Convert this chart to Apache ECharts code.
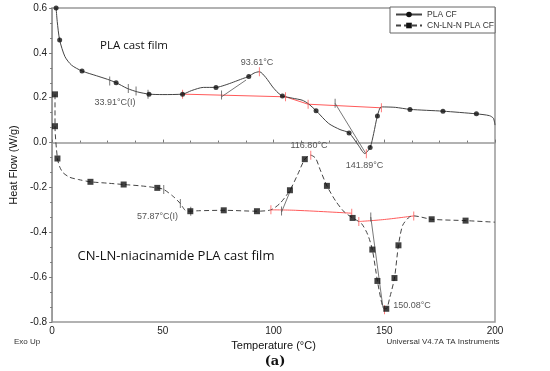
<!DOCTYPE html>
<html><head><meta charset="utf-8">
<script src="https://cdn.jsdelivr.net/npm/echarts@6/dist/echarts.min.js"></script>
<style>html,body{margin:0;padding:0;background:#fff}#c{width:550px;height:371px}</style>
</head><body><div id="c"></div>
<script>
// ---- Data (Temperature °C, Heat Flow W/g) ----
const plaT = [1.8, 2.3, 3.4, 5.8, 8.8, 13.5, 20, 25, 28.9, 33.9, 38.5, 43.75, 50, 58.9, 63, 68.3, 74, 78, 82, 86, 88.8, 91.2, 93.6, 96.5, 99.6, 102, 104, 108.5, 112.9, 115.6, 119.2, 124.9, 130, 134.1, 138.3, 141.2, 143.6, 145.2, 146.9, 148.7, 155, 161.6, 176.5, 191.6, 197.5, 199.3, 200];
const plaH = [0.6, 0.54, 0.457, 0.383, 0.345, 0.319, 0.298, 0.282, 0.267, 0.2415, 0.226, 0.216, 0.214, 0.216, 0.232, 0.246, 0.246, 0.256, 0.27, 0.285, 0.295, 0.31, 0.316, 0.29, 0.248, 0.222, 0.208, 0.198, 0.189, 0.174, 0.142, 0.085, 0.058, 0.043, -0.012, -0.049, -0.022, 0.04, 0.119, 0.159, 0.157, 0.148, 0.140, 0.128, 0.12, 0.108, 0.078];
const plaMarkT = [1.8, 3.4, 13.5, 28.9, 43.75, 58.9, 74, 88.8, 104, 119.2, 134.1, 143.6, 146.9, 161.6, 176.5, 191.6];
const plaMarkH = [0.6, 0.457, 0.319, 0.267, 0.216, 0.216, 0.246, 0.295, 0.208, 0.142, 0.043, -0.022, 0.119, 0.148, 0.140, 0.128];

const cnT = [1.3, 1.3, 2.4, 3.5, 5, 8, 12, 17.3, 25, 32.3, 40, 47.5, 50.4, 54.9, 57.9, 60.1, 62.4, 66, 77.5, 92.5, 98.8, 103, 107.4, 111, 114.1, 116.7, 119, 121, 124.1, 128, 132, 135.7, 139.7, 142.5, 144.6, 146.9, 148.5, 149.6, 150.9, 152.5, 154.6, 156.4, 158.3, 161.3, 163.3, 171.4, 186.7, 200];
const cnH = [0.215, 0.073, -0.071, -0.11, -0.135, -0.155, -0.165, -0.175, -0.181, -0.187, -0.193, -0.202, -0.209, -0.242, -0.272, -0.302, -0.306, -0.304, -0.302, -0.306, -0.300, -0.27, -0.2125, -0.14, -0.074, -0.056, -0.07, -0.12, -0.193, -0.26, -0.31, -0.336, -0.361, -0.41, -0.477, -0.617, -0.70, -0.738, -0.741, -0.69, -0.604, -0.458, -0.369, -0.332, -0.327, -0.342, -0.348, -0.355];
const cnMarkT = [1.3, 1.3, 2.4, 17.3, 32.3, 47.5, 62.4, 77.5, 92.5, 107.4, 114.1, 124.1, 135.7, 144.6, 146.9, 150.9, 154.6, 156.4, 171.4, 186.7];
const cnMarkH = [0.215, 0.073, -0.071, -0.175, -0.187, -0.202, -0.306, -0.302, -0.306, -0.2125, -0.074, -0.193, -0.336, -0.477, -0.617, -0.741, -0.604, -0.458, -0.342, -0.348];

// integration baselines (red)
const plaBaseT = [58.9, 105.4, 115.6, 148.7];
const plaBaseH = [0.216, 0.204, 0.171, 0.155];
const cnBase1T = [98.8, 110, 135.3];
const cnBase1H = [-0.300, -0.302, -0.315];
const cnBase2T = [138.5, 150, 163.3];
const cnBase2H = [-0.352, -0.343, -0.327];
// red limit ticks
const redTickT = [58.9, 93.6, 105.4, 115.6, 148.7, 141.9, 98.8, 116.8, 135.3, 138.5, 163.3, 150.1];
const redTickH = [0.216, 0.316, 0.204, 0.171, 0.155, -0.05, -0.300, -0.056, -0.315, -0.352, -0.327, -0.745];
// gray tangent lines (pairs)
const tanLines = [
  [[76.5, 0.204], [87.6, 0.279]],
  [[127.8, 0.175], [141.5, -0.046]],
  [[103.6, -0.31], [108.6, -0.19]],
  [[143.9, -0.332], [149.4, -0.736]]
];
// gray analysis ticks
const grayTickT = [26, 34.4, 37.9, 43.3, 76.5, 127.8, 50.4, 57.9, 62.6, 103.6, 143.9];
const grayTickH = [0.275, 0.2415, 0.23, 0.216, 0.212, 0.175, -0.209, -0.272, -0.306, -0.305, -0.332];

// annotations
const notes = [
  {text: 'PLA cast film', x: 134, y: 46, size: 11.5, color: '#111'},
  {text: 'CN-LN-niacinamide PLA cast film', x: 176, y: 256, size: 13, color: '#111'},
  {text: '33.91°C(I)', x: 115, y: 103, size: 9, color: '#555'},
  {text: '93.61°C', x: 257, y: 63, size: 9, color: '#555'},
  {text: '116.80°C', x: 309, y: 146, size: 9, color: '#555'},
  {text: '141.89°C', x: 364.5, y: 166, size: 9, color: '#555'},
  {text: '57.87°C(I)', x: 157.5, y: 217, size: 9, color: '#555'},
  {text: '150.08°C', x: 412, y: 306, size: 9, color: '#555'}
];

const zip = (a, b) => a.map((v, i) => [v, b[i]]);
const FONT = '"Liberation Sans", Arial, sans-serif';

const chart = echarts.init(document.getElementById('c'), null, {renderer: 'canvas'});

const series = [
  {name: 'PLA CF', type: 'line', data: zip(plaT, plaH), smooth: 0.25, showSymbol: false,
   symbol: 'circle', symbolSize: 5, itemStyle: {color: '#111'},
   lineStyle: {color: '#444', width: 1}, z: 3, silent: true},
  {name: 'CN-LN-N PLA CF', type: 'line', data: zip(cnT, cnH), smooth: 0.25, showSymbol: false,
   symbol: 'rect', symbolSize: 5, itemStyle: {color: '#111'},
   lineStyle: {color: '#444', width: 1, type: [5, 3]}, z: 3, silent: true},
  {name: 'plaMarks', type: 'scatter', data: zip(plaMarkT, plaMarkH), symbol: 'circle', symbolSize: 5,
   itemStyle: {color: '#111'}, z: 5, silent: true},
  {name: 'cnMarks', type: 'scatter', data: zip(cnMarkT, cnMarkH), symbol: 'rect', symbolSize: 6,
   itemStyle: {color: '#111'}, z: 5, silent: true},
  {name: 'b1', type: 'line', data: zip(plaBaseT, plaBaseH), showSymbol: false, symbol: 'none',
   lineStyle: {color: '#ff5a5a', width: 1}, z: 2, silent: true},
  {name: 'b2', type: 'line', data: zip(cnBase1T, cnBase1H), smooth: 0.4, showSymbol: false, symbol: 'none',
   lineStyle: {color: '#ff5a5a', width: 1}, z: 2, silent: true},
  {name: 'b3', type: 'line', data: zip(cnBase2T, cnBase2H), smooth: 0.4, showSymbol: false, symbol: 'none',
   lineStyle: {color: '#ff5a5a', width: 1}, z: 2, silent: true},
  {name: 'rt', type: 'scatter', data: zip(redTickT, redTickH), symbol: 'rect', symbolSize: [1, 9],
   itemStyle: {color: '#ff5a5a'}, z: 4, silent: true},
  {name: 'gt', type: 'scatter', data: zip(grayTickT, grayTickH), symbol: 'rect', symbolSize: [1, 9],
   itemStyle: {color: '#555'}, z: 4, silent: true}
];
tanLines.forEach((seg, i) => series.push({name: 'tan' + i, type: 'line', data: seg, showSymbol: false,
  symbol: 'none', lineStyle: {color: '#555', width: 0.8}, z: 2, silent: true}));

chart.setOption({
  animation: false,
  backgroundColor: '#fff',
  grid: {left: 47, right: 55, top: 8, bottom: 49, show: true, borderColor: '#999', borderWidth: 1.5},
  legend: {
    data: [{name: 'PLA CF'}, {name: 'CN-LN-N PLA CF'}],
    orient: 'vertical', left: 390, top: 7, itemWidth: 26, itemHeight: 7, itemGap: 2,
    padding: [3, 1, 3, 5], borderColor: '#666', borderWidth: 1, backgroundColor: '#fff',
    textStyle: {fontSize: 8.5, color: '#333', fontFamily: FONT}, selectedMode: false
  },
  xAxis: {
    type: 'value', min: 0, max: 200, interval: 50,
    name: 'Temperature (°C)', nameLocation: 'middle', nameGap: 15,
    nameTextStyle: {fontSize: 11, color: '#111', fontFamily: FONT},
    axisLine: {lineStyle: {color: '#999', width: 1.5}},
    axisTick: {show: true, inside: true, length: 3, lineStyle: {color: '#777'}},
    minorTick: {show: true, splitNumber: 4, length: 2, lineStyle: {color: '#777'}},
    splitLine: {show: false},
    axisLabel: {fontSize: 10, color: '#222', fontFamily: FONT, margin: 4}
  },
  yAxis: {
    type: 'value', min: -0.8, max: 0.6, interval: 0.2,
    name: 'Heat Flow (W/g)', nameLocation: 'middle', nameGap: 28, nameRotate: 90,
    nameTextStyle: {fontSize: 11, color: '#111', fontFamily: FONT},
    axisLine: {lineStyle: {color: '#999', width: 1.5}},
    axisTick: {show: true, length: 3, lineStyle: {color: '#777'}},
    minorTick: {show: true, splitNumber: 3, length: 2, lineStyle: {color: '#777'}},
    splitLine: {show: false},
    axisLabel: {fontSize: 10, color: '#222', fontFamily: FONT, margin: 5,
      formatter: v => v.toFixed(1)}
  },
  graphic: notes.map(n => ({type: 'text', x: n.x, y: n.y, z: 10,
      style: {text: n.text, fontSize: n.size, fill: n.color, fontFamily: n.size > 10 ? '"Open Sans", sans-serif' : FONT,
              textAlign: 'center', textVerticalAlign: 'middle'}}))
    .concat([
      {type: 'text', x: 27, y: 342, style: {text: 'Exo Up', fontSize: 8, fill: '#333', fontFamily: FONT, textAlign: 'center', textVerticalAlign: 'middle'}},
      {type: 'text', x: 443, y: 342, style: {text: 'Universal V4.7A TA Instruments', fontSize: 8, fill: '#333', fontFamily: FONT, textAlign: 'center', textVerticalAlign: 'middle'}},
      {type: 'text', x: 275, y: 362, style: {text: '(a)', fontSize: 13, fontWeight: 'bold', fill: '#111', fontFamily: '"DejaVu Serif", "Liberation Serif", serif', textAlign: 'center', textVerticalAlign: 'middle'}}
    ]),
  series: series
});
</script>
</body></html>
